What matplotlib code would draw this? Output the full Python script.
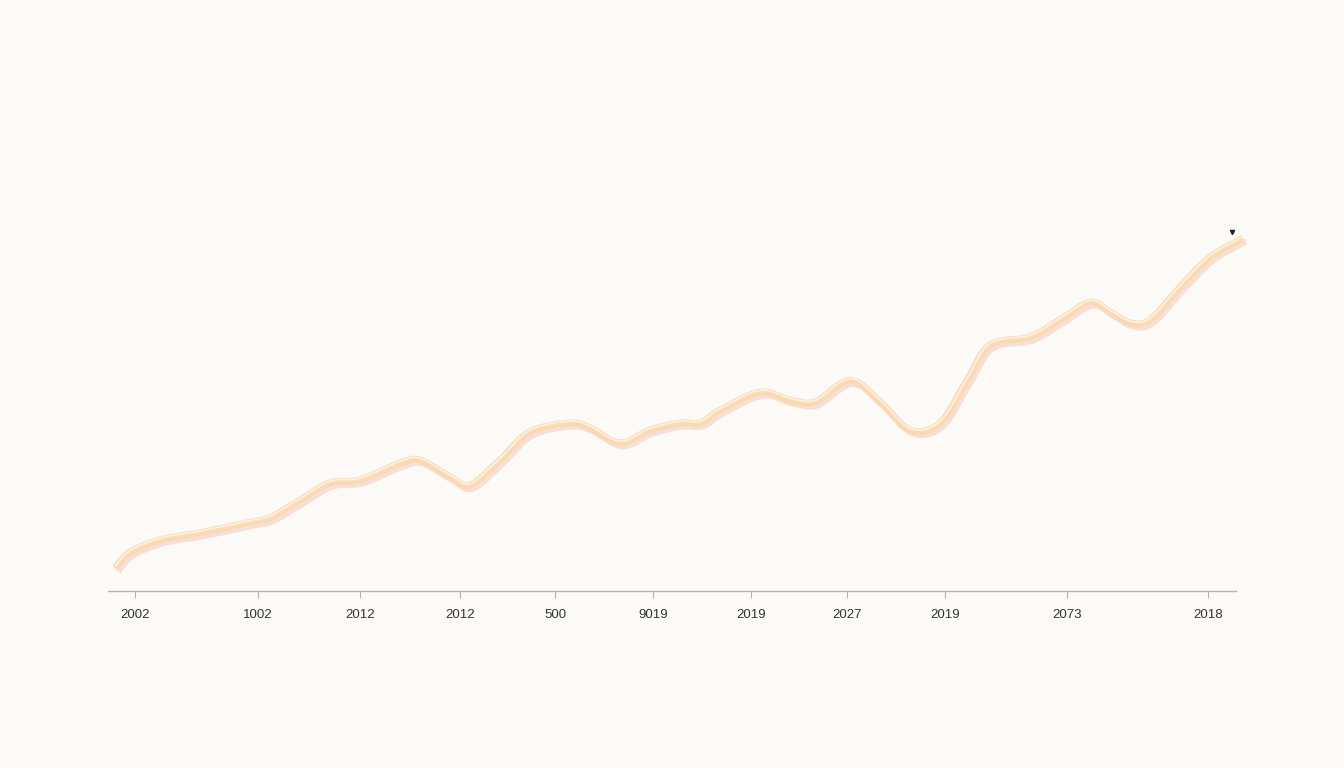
import numpy as np
import matplotlib
matplotlib.use("Agg")
import matplotlib.pyplot as plt
from matplotlib.path import Path
from matplotlib.patches import PathPatch
import matplotlib.patheffects as pe

# ---- data ----
x_vals = [0.62, 1.95, 4.61, 8.16, 12.59, 14.36, 17.02, 19.68, 22.34, 25.89,
          27.66, 30.32, 32.09, 34.75, 37.41, 40.96, 42.73, 45.39, 48.05, 50.71,
          52.48, 54.26, 57.80, 60.46, 62.68, 65.78, 68.44, 71.10, 73.76, 76.15,
          78.19, 81.74, 84.40, 87.06, 88.83, 90.60, 92.38, 95.04, 97.70, 100.62]
y_vals = [5.2, 8.8, 11.6, 13.2, 15.6, 16.6, 20.6, 24.5, 25.2, 29.0,
          29.7, 25.9, 24.0, 29.7, 36.1, 38.1, 37.0, 33.6, 36.5, 38.1,
          38.1, 41.0, 45.1, 43.3, 42.9, 47.8, 42.9, 36.5, 38.1, 47.8,
          55.8, 57.6, 61.5, 65.5, 63.3, 60.8, 61.5, 68.9, 75.7, 80.0]
tick_pos = [2.39, 13.30, 22.34, 31.21, 39.63, 48.32, 57.00, 65.51, 74.20, 85.02, 97.52]
tick_labels = ["2002", "1002", "2012", "2012", "500", "9019", "2019", "2027",
               "2019", "2073", "2018"]
marker_x = [99.65]
marker_y = [81.4]

BG = "#fcfaf7"

fig = plt.figure(figsize=(13.44, 7.68), dpi=100, facecolor=BG)
ax = fig.add_axes([108/1344, 1-591/768, 1128/1344, 441/768])
ax.set_facecolor(BG)
ax.set_xlim(0, 100)
ax.set_ylim(0, 100)


def smooth_path(xs, ys):
    # Catmull-Rom through the data points, expressed as cubic Bezier segments
    p = np.column_stack([xs, ys]).astype(float)
    p_ext = np.vstack([p[0], p, p[-1]])
    verts = [tuple(p[0])]
    codes = [Path.MOVETO]
    for i in range(1, len(p_ext) - 2):
        p0, p1, p2, p3 = p_ext[i-1], p_ext[i], p_ext[i+1], p_ext[i+2]
        c1 = p1 + (p2 - p0) / 6.0
        c2 = p2 - (p3 - p1) / 6.0
        verts += [tuple(c1), tuple(c2), tuple(p2)]
        codes += [Path.CURVE4] * 3
    return Path(verts, codes)


path = smooth_path(x_vals, y_vals)

# soft pinkish shadow side of the ribbon
shadow = PathPatch(path, fill=False, edgecolor="#f1c4b8", lw=4.5, alpha=0.45,
                   capstyle="butt", joinstyle="round", clip_on=False, zorder=2,
                   transform=ax.transData)
shadow.set_path_effects([pe.Stroke(offset=(2.0, -2.5), linewidth=4.5,
                                   foreground="#efc0b5", alpha=0.45)])
ax.add_patch(shadow)

# main peach ribbon
ribbon = PathPatch(path, fill=False, edgecolor="#fad9b0", lw=5, alpha=0.9,
                   capstyle="butt", joinstyle="round", clip_on=False, zorder=3,
                   transform=ax.transData)
ax.add_patch(ribbon)

# light highlight edge
hl = PathPatch(path, fill=False, edgecolor="#fff0d8", lw=1.2, alpha=0.9,
               capstyle="butt", joinstyle="round", clip_on=False, zorder=4,
               transform=ax.transData)
hl.set_path_effects([pe.Stroke(offset=(0, 1.3), linewidth=1.2,
                               foreground="#fff3df", alpha=0.9)])
ax.add_patch(hl)

ax.plot(marker_x, marker_y, marker="v", ms=3, color="#222222", lw=0,
        clip_on=False, zorder=5)

for s in ["top", "right", "left"]:
    ax.spines[s].set_visible(False)
ax.spines["bottom"].set_color("#b5b3b0")
ax.spines["bottom"].set_linewidth(1.0)
ax.set_yticks([])
ax.set_xticks(tick_pos)
ax.set_xticklabels(tick_labels, fontfamily="Liberation Sans", fontsize=9.5,
                   color="#333333")
ax.tick_params(axis="x", length=5, width=0.8, color="#b5b3b0", pad=8)

fig.savefig("out.png", dpi=100, facecolor=BG)
